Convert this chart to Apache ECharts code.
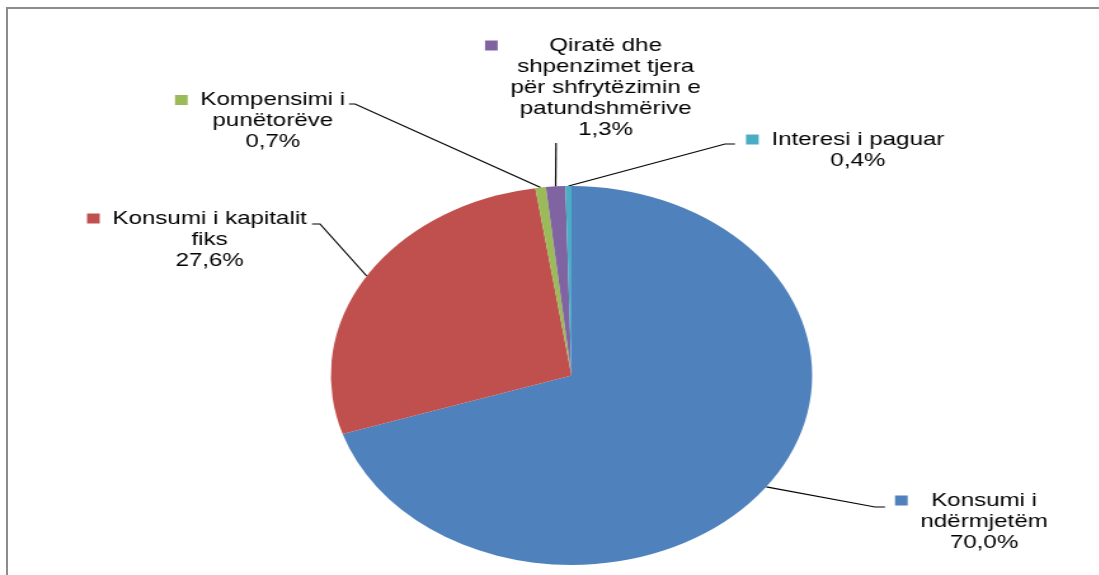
<!doctype html>
<html>
<head>
<meta charset="utf-8">
<title>Struktura e shpenzimeve</title>
<script src="https://cdn.jsdelivr.net/npm/echarts/dist/echarts.min.js"></script>
<style>
    html, body { margin: 0; padding: 0; background: #fff; }
    #wrap { position: relative; width: 1099px; height: 575px; overflow: hidden; }
    #frame { position: absolute; left: 6px; top: 7px; width: 1200px; height: 700px;
             border-top: 2px solid #8c8c8c; border-left: 2px solid #8c8c8c; }
    #chart { position: absolute; left: 0; top: 0; height: 575px; transform-origin: 0 0; }
</style>
</head>
<body>
<div id="wrap">
    <div id="frame"></div>
    <div id="chart"></div>
</div>
<script>
    // data
    var categories = [
        'Konsumi i\nndërmjetëm',
        'Konsumi i kapitalit\nfiks',
        'Kompensimi i\npunëtorëve',
        'Qiratë dhe\nshpenzimet tjera\npër shfrytëzimin e\npatundshmërive',
        'Interesi i paguar'
    ];
    var shares = [70.0, 27.6, 0.7, 1.3, 0.4];
    var colors = ['#4F81BD', '#C0504D', '#9BBB59', '#8064A2', '#4BACC6'];

    // the original picture is stretched sideways, so the whole chart is drawn narrow and scaled
    var S = 1.27;
    // label block [left, top] and leader line [bendX, bendY, endX], in page pixels
    var labelPos = [[895, 490], [87, 208], [175, 89.5], [485, 35], [746, 129]];
    var lineBends = [[875, 507, 885], [320, 224, 312], [355, 104, 349], [556, 143, 556], [725, 144, 735]];

    var el = document.getElementById('chart');
    el.style.width = Math.round(1099 / S) + 'px';
    el.style.transform = 'scaleX(' + S + ')';

    var font = "'Liberation Sans', Arial, sans-serif";
    var rich = {
        t: { fontSize: 19, lineHeight: 21, align: 'center', color: '#000', fontFamily: font },
        g: { width: 10, lineHeight: 21, align: 'left' },
        s: { width: 20, lineHeight: 21, align: 'left' }
    };
    colors.forEach(function (c, i) {
        rich['m' + i] = { width: 10, height: 10, backgroundColor: c, align: 'left' };
    });

    var pieData = categories.map(function (n, i) {
        return { name: n, value: shares[i], itemStyle: { color: colors[i] } };
    });

    var myChart = echarts.init(el, null, { renderer: 'canvas' });
    var option = {
        backgroundColor: 'transparent',
        animation: false,
        series: [{
            type: 'pie',
            center: [571.5 / S, 375.5],
            radius: 189.5,
            startAngle: 90,
            clockwise: true,
            avoidLabelOverlap: false,
            data: pieData,
            itemStyle: { borderWidth: 0 },
            emphasis: { disabled: true },
            label: {
                show: true,
                color: '#000',
                fontFamily: font,
                fontSize: 19,
                lineHeight: 21,
                rich: rich,
                formatter: function (p) {
                    var lines = p.name.split('\n');
                    lines.push(p.value.toFixed(1).replace('.', ',') + '%');
                    return lines.map(function (l, k) {
                        return (k === 0 ? '{m' + p.dataIndex + '|}{g|}' : '{s|}') + '{t|' + l + '}';
                    }).join('\n');
                }
            },
            labelLine: {
                show: true,
                length: 20,
                length2: 10,
                lineStyle: { color: '#000', width: 1.2 }
            },
            labelLayout: function (p) {
                var i = p.dataIndex;
                var pts = p.labelLinePoints;
                var b = lineBends[i];
                var out = {
                    x: labelPos[i][0] / S,
                    y: labelPos[i][1],
                    align: 'left',
                    verticalAlign: 'top'
                };
                if (pts) {
                    out.labelLinePoints = [pts[0], [b[0] / S, b[1]], [b[2] / S, b[1]]];
                }
                return out;
            }
        }]
    };
    myChart.setOption(option);
</script>
</body>
</html>
